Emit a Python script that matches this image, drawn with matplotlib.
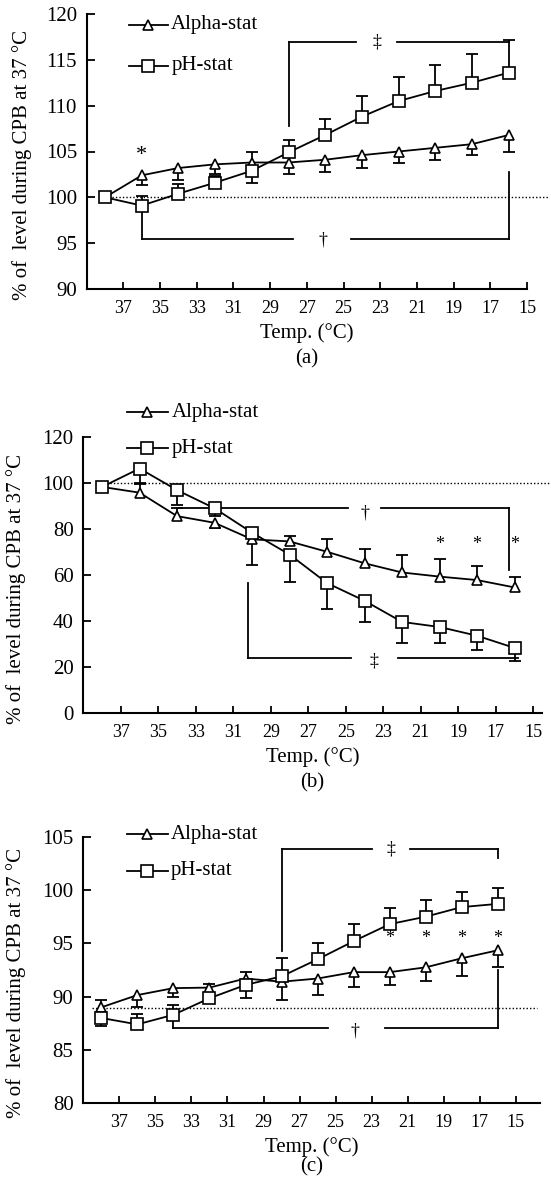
import numpy as np
import matplotlib.pyplot as plt
from matplotlib.transforms import offset_copy

plt.rcParams['font.family'] = ['Liberation Serif', 'DejaVu Serif']

W, H = 551, 1180

temps = [38, 36, 34, 32, 30, 28, 26, 24, 22, 20, 18, 16]
temp_ticks = [37, 35, 33, 31, 29, 27, 25, 23, 21, 19, 17, 15]
ylabel = '% of  level during CPB at 37 °C'
xlabel = 'Temp. (°C)'
names = ['Alpha-stat', 'pH-stat']

# panel (a)
a_alpha = [100, 102.4, 103.2, 103.6, 103.8, 103.8, 104.1, 104.6, 105.0, 105.4, 105.8, 106.8]
a_alpha_lo = [0, 1.1, 1.3, 1.0, 0, 1.2, 1.3, 1.4, 1.3, 1.3, 1.2, 1.9]
a_alpha_hi = [0, 0, 0, 0, 1.1, 0, 0, 0, 0, 0, 0, 0]
a_ph = [100, 99.1, 100.4, 101.6, 102.9, 104.9, 106.8, 108.8, 110.5, 111.6, 112.5, 113.6]
a_ph_lo = [0, 0, 0, 0, 1.3, 0, 0, 0, 0, 0, 0, 0]
a_ph_hi = [0, 1.0, 1.1, 0.7, 0, 1.4, 1.8, 2.3, 2.6, 2.8, 3.1, 3.6]

# panel (b)
b_alpha = [98.3, 95.8, 85.6, 82.7, 75.5, 74.6, 70.1, 65.1, 61.1, 59.3, 57.8, 54.6]
b_alpha_lo = [0, 0, 0, 2.4, 11.0, 0, 0, 0, 0, 0, 0, 0]
b_alpha_hi = [0, 3.7, 3.5, 0, 0, 2.4, 5.5, 6.2, 7.4, 7.5, 5.9, 4.7]
b_ph = [98.3, 106.3, 96.9, 89.0, 78.4, 68.9, 56.5, 48.8, 39.6, 37.4, 33.6, 28.3]
b_ph_lo = [0, 6.5, 6.4, 3.3, 0, 11.8, 11.1, 9.1, 9.2, 7.0, 6.2, 5.7]
b_ph_hi = [0] * 12

# panel (c)
c_alpha = [89.0, 90.15, 90.8, 90.85, 91.7, 91.4, 91.7, 92.3, 92.3, 92.75, 93.6, 94.35]
c_alpha_lo = [0, 1.15, 0.8, 0, 0, 1.7, 1.5, 1.4, 1.2, 1.25, 1.65, 1.55]
c_alpha_hi = [0.7, 0, 0, 0.35, 0.6, 0, 0, 0, 0, 0, 0, 0]
c_ph = [88.0, 87.4, 88.3, 89.85, 91.1, 91.9, 93.5, 95.2, 96.8, 97.5, 98.4, 98.7]
c_ph_lo = [0.75, 0, 0, 0, 1.2, 0, 0, 0, 0, 0, 0, 0]
c_ph_hi = [0, 1.0, 0.9, 0, 0, 1.7, 1.5, 1.6, 1.5, 1.6, 1.45, 1.5]


def bars(ax, x, y, lo, hi):
    x, y, lo, hi = map(np.asarray, (x, y, lo, hi))
    for err, sign in ((lo, -1), (hi, 1)):
        m = err > 0
        ends = y[m] + sign * err[m]
        ax.vlines(x[m], y[m], ends, color='k', lw=1.3, zorder=2)
        ax.plot(x[m], ends, ls='none', marker='_', ms=9, mew=1.3, color='k', zorder=2)


def hline_gap(ax, x0, x1, y, g0, g1):
    ax.plot([x0, g0], [y, y], color='k', lw=1.3, clip_on=False)
    ax.plot([g1, x1], [y, y], color='k', lw=1.3, clip_on=False)


def panel(ax, alpha, alo, ahi, ph, plo, phi, ref, ref_x0, ylim, yticks, xmax, leg_y, cap, cap_off):
    bars(ax, temps, alpha, alo, ahi)
    bars(ax, temps, ph, plo, phi)
    ax.plot(temps, alpha, 'k-', lw=1.3, marker='^', ms=7, mfc='white', mec='k', mew=1.2, zorder=3)
    ax.plot(temps, ph, 'k-', lw=1.3, marker='s', ms=8, mfc='white', mec='k', mew=1.2, zorder=3)
    ax.plot([ref_x0, 13.8], [ref, ref], color='k', lw=1.0, ls=(0, (1, 1.5)), clip_on=False, zorder=1)

    ax.set_xlim(39, xmax)
    ax.set_ylim(*ylim)
    ax.set_xticks(temp_ticks)
    ax.set_yticks(yticks)
    ax.tick_params(axis='x', direction='in', length=5, width=1.3, labelsize=13, pad=8)
    ax.tick_params(axis='y', direction='in', length=6, width=1.3, labelsize=15, pad=7)
    for s in ('top', 'right'):
        ax.spines[s].set_visible(False)
    for s in ('left', 'bottom'):
        ax.spines[s].set_linewidth(1.5)
    ax.set_xlabel(xlabel, fontsize=15, labelpad=4)
    ax.set_ylabel(ylabel, fontsize=15)
    ax.yaxis.set_label_coords(-0.125, 0.45)

    # legend
    for (mk, ms), ly, name in zip((('^', 7), ('s', 8)), leg_y, names):
        ax.plot([0.095, 0.185], [ly, ly], 'k-', lw=1.3, transform=ax.transAxes, clip_on=False)
        ax.plot([0.14], [ly], marker=mk, ms=ms, mfc='white', mec='k', mew=1.2,
                transform=ax.transAxes, clip_on=False)
        ax.text(0.192, ly, name, transform=ax.transAxes, fontsize=15, va='center')

    ax.text(0.5, 0, cap, fontsize=15, ha='center', va='center',
            transform=offset_copy(ax.transAxes, fig=ax.figure, y=-cap_off, units='dots'))


fig = plt.figure(figsize=(W / 100, H / 100), dpi=100)


def add_ax(left, right, top, bottom):
    return fig.add_axes([left / W, 1 - bottom / H, (right - left) / W, (bottom - top) / H])


ax_a = add_ax(86.7, 527, 14, 289)
ax_b = add_ax(83.3, 541.7, 437, 713)
ax_c = add_ax(83.3, 540, 836.7, 1103.3)

panel(ax_a, a_alpha, a_alpha_lo, a_alpha_hi, a_ph, a_ph_lo, a_ph_hi, 100, 38,
      (90, 120), range(90, 121, 5), 15, (0.96, 0.812), '(a)', 70)
panel(ax_b, b_alpha, b_alpha_lo, b_alpha_hi, b_ph, b_ph_lo, b_ph_hi, 100, 38.3,
      (0, 120), range(0, 121, 20), 14.55, (1.09, 0.96), '(b)', 70)
panel(ax_c, c_alpha, c_alpha_lo, c_alpha_hi, c_ph, c_ph_lo, c_ph_hi, 88.9, 38.5,
      (80, 105), range(80, 106, 5), 13.66, (1.01, 0.872), '(c)', 64)

# significance marks (a)
ax_a.plot([28, 28], [107.8, 116.9], 'k-', lw=1.3)
hline_gap(ax_a, 28, 16, 116.9, 24.3, 22.1)
ax_a.text(23.2, 116.9, '‡', ha='center', va='center', fontsize=13)
ax_a.plot([36, 36], [99.1, 95.5], 'k-', lw=1.3)
hline_gap(ax_a, 36, 16, 95.5, 27.75, 24.6)
ax_a.plot([16, 16], [95.5, 102.75], 'k-', lw=1.3)
ax_a.text(26.1, 95.3, '†', ha='center', va='center', fontsize=13)
ax_a.text(36, 104.6, '*', ha='center', va='center', fontsize=16)

# significance marks (b)
hline_gap(ax_b, 34, 16.3, 89.3, 24.9, 23.1)
ax_b.plot([16.3, 16.3], [89.3, 62.1], 'k-', lw=1.3)
ax_b.text(24.0, 87.0, '†', ha='center', va='center', fontsize=13)
ax_b.plot([30.2, 30.2], [56.4, 23.9], 'k-', lw=1.3)
hline_gap(ax_b, 30.2, 15.8, 23.9, 24.7, 22.2)
ax_b.text(23.5, 22.5, '‡', ha='center', va='center', fontsize=13)
for t in (20, 18, 16):
    ax_b.text(t, 73.2, '*', ha='center', va='center', fontsize=13)

# significance marks (c)
ax_c.plot([28, 28], [94.3, 103.8], 'k-', lw=1.3)
hline_gap(ax_c, 28, 16, 103.8, 23.0, 20.85)
ax_c.plot([16, 16], [103.8, 103.0], 'k-', lw=1.3)
ax_c.text(21.95, 103.8, '‡', ha='center', va='center', fontsize=13)
ax_c.plot([34, 34], [88.0, 87.04], 'k-', lw=1.3)
hline_gap(ax_c, 34, 16, 87.04, 25.4, 22.25)
ax_c.plot([16, 16], [87.04, 92.5], 'k-', lw=1.3)
ax_c.text(23.95, 86.8, '†', ha='center', va='center', fontsize=13)
for t in (22, 20, 18, 16):
    ax_c.text(t, 95.5, '*', ha='center', va='center', fontsize=13)

fig.savefig('out.png', dpi=100)
